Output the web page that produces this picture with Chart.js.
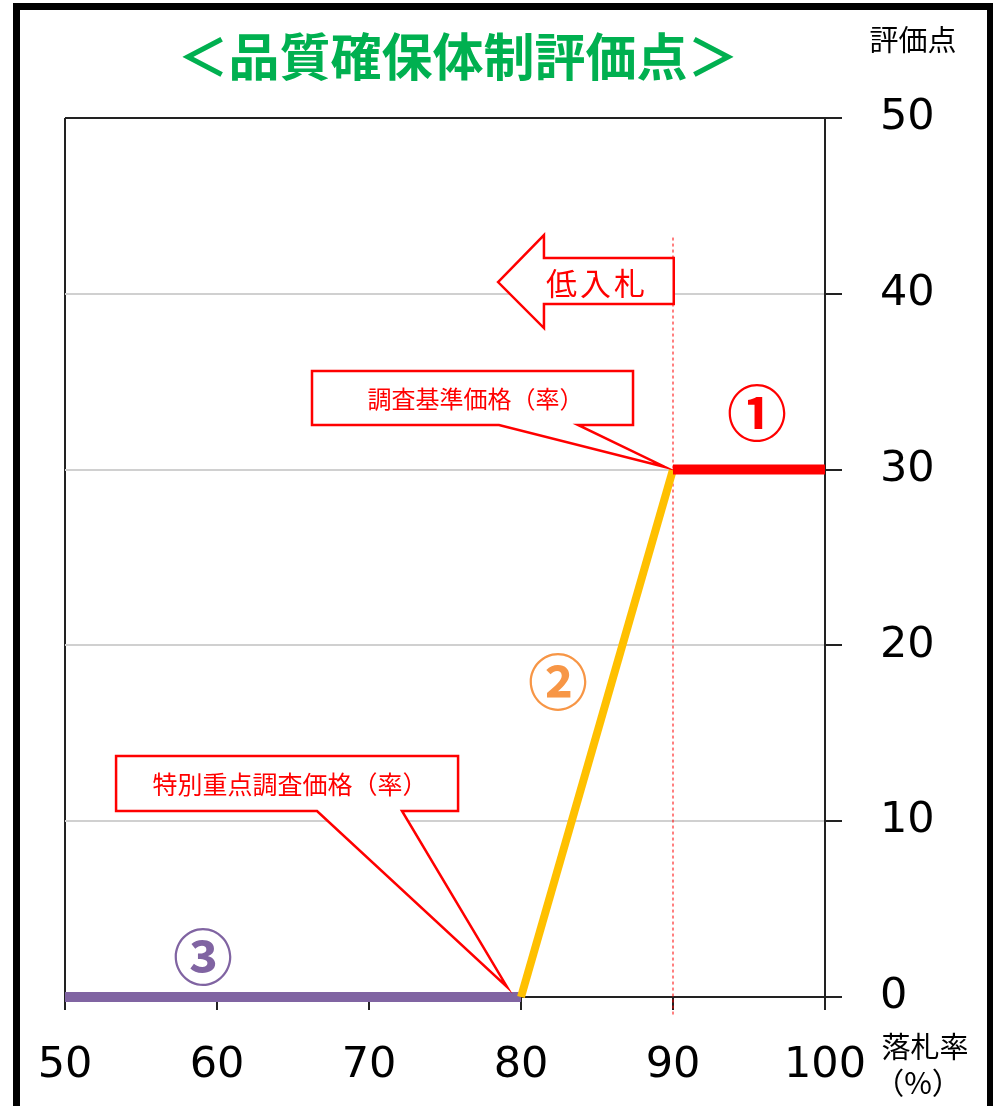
<!DOCTYPE html>
<html lang="ja">
<head>
<meta charset="utf-8">
<title>品質確保体制評価点</title>
<script src="https://cdn.jsdelivr.net/npm/chart.js@4.4.1/dist/chart.umd.min.js"></script>
<style>
html, body { margin: 0; padding: 0; background: #fff; }
#wrap { position: relative; width: 993px; height: 1106px; }
</style>
</head>
<body>
<div id="wrap"><canvas id="myChart"></canvas></div>
<script>
// 落札率 (%) と 評価点
const rates = [50, 80, 90, 100];
const scores = [0, 0, 30, 30];

// 調査基準価格(率) の縦の補助線
const refLineX = [90, 90];
const refLineY = [43.2, -1];

const xTicks = [50, 60, 70, 80, 90, 100];
const yTicks = [0, 10, 20, 30, 40, 50];

const CJK = '"Noto Sans CJK JP", "Noto Sans", sans-serif';
const RED = '#ff0000';

const seg = (i, j) => rates.slice(i, j + 1).map((r, k) => ({ x: r, y: scores[i + k] }));

// 吹き出し・矢印などの注記 (位置はグラフの値で指定)
const notes = {
    kijun: { box: [66.25, 87.37, 35.61, 32.54], base: [78.55, 83.75], tip: [89.47, 30.15],
             text: '調査基準価格（率）', size: 24 },
    tokubetsu: { box: [53.36, 75.86, 13.71, 10.58], base: [66.58, 72.17], tip: [79.08, 0.57],
                 text: '特別重点調査価格（率）', size: 25 },
    arrow: { tipX: 78.49, headX: 81.51, right: 90.05, midY: 40.67,
             bodyTop: 42.04, bodyBottom: 39.42, headTop: 43.34, headBottom: 38.05,
             text: '低入札', textX: 85.0 },
    marks: [
        { text: '①', x: 95.53, y: 33.22, color: '#ff0000' },
        { text: '②', x: 82.43, y: 17.92, color: '#f79646' },
        { text: '③', x: 59.08, y: 2.28, color: '#8064a2' }
    ]
};

function drawCallout(ctx, X, Y, c) {
    const [l, r, t, b] = [X(c.box[0]), X(c.box[1]), Y(c.box[2]), Y(c.box[3])];
    ctx.beginPath();
    ctx.moveTo(l, t);
    ctx.lineTo(r, t);
    ctx.lineTo(r, b);
    ctx.lineTo(X(c.base[1]), b);
    ctx.lineTo(X(c.tip[0]), Y(c.tip[1]));
    ctx.lineTo(X(c.base[0]), b);
    ctx.lineTo(l, b);
    ctx.closePath();
    ctx.fillStyle = '#fff';
    ctx.fill();
    ctx.lineWidth = 2.5;
    ctx.strokeStyle = RED;
    ctx.stroke();
    ctx.fillStyle = RED;
    ctx.font = c.size + 'px ' + CJK;
    ctx.textAlign = 'center';
    ctx.textBaseline = 'middle';
    ctx.fillText(c.text, (l + r) / 2 + 3, (t + b) / 2 + 1);
}

const annotations = {
    id: 'annotations',
    beforeDraw(chart) {
        const ctx = chart.ctx;
        ctx.save();
        ctx.fillStyle = '#fff';
        ctx.fillRect(0, 0, chart.width, chart.height);
        // 外枠
        ctx.fillStyle = '#000';
        ctx.fillRect(13, 3, 980, 7);
        ctx.fillRect(13, 3, 7, chart.height);
        ctx.fillRect(987, 3, 6, chart.height);
        ctx.restore();
    },
    afterDatasetsDraw(chart) {
        const ctx = chart.ctx;
        const X = v => chart.scales.x.getPixelForValue(v);
        const Y = v => chart.scales.y.getPixelForValue(v);
        ctx.save();

        // 低入札 の矢印
        const a = notes.arrow;
        ctx.beginPath();
        ctx.moveTo(X(a.tipX), Y(a.midY));
        ctx.lineTo(X(a.headX), Y(a.headTop));
        ctx.lineTo(X(a.headX), Y(a.bodyTop));
        ctx.lineTo(X(a.right), Y(a.bodyTop));
        ctx.lineTo(X(a.right), Y(a.bodyBottom));
        ctx.lineTo(X(a.headX), Y(a.bodyBottom));
        ctx.lineTo(X(a.headX), Y(a.headBottom));
        ctx.closePath();
        ctx.fillStyle = '#fff';
        ctx.fill();
        ctx.lineWidth = 2.5;
        ctx.strokeStyle = RED;
        ctx.stroke();
        ctx.fillStyle = RED;
        ctx.font = '31px ' + CJK;
        ctx.textAlign = 'center';
        ctx.textBaseline = 'middle';
        ctx.letterSpacing = '3px';
        ctx.fillText(a.text, X(a.textX), Y(a.midY) + 1);
        ctx.letterSpacing = '0px';

        drawCallout(ctx, X, Y, notes.kijun);
        drawCallout(ctx, X, Y, notes.tokubetsu);

        // 丸数字
        ctx.font = 'bold 60px ' + CJK;
        notes.marks.forEach(m => {
            ctx.fillStyle = m.color;
            ctx.fillText(m.text, X(m.x), Y(m.y));
        });

        // タイトルと軸の見出し
        ctx.fillStyle = '#00b050';
        ctx.font = 'bold 51px ' + CJK;
        ctx.fillText('＜品質確保体制評価点＞', 458, 57);

        ctx.fillStyle = '#000';
        ctx.font = '29px ' + CJK;
        ctx.fillText('評価点', 913, 40);
        ctx.fillText('落札率', 925, 1047);
        ctx.font = '30px ' + CJK;
        ctx.fillText('（%）', 918, 1083);
        ctx.restore();
    }
};

const ctx = document.getElementById('myChart');

const chart = new Chart(ctx, {
    type: 'line',
    data: {
        datasets: [
            { label: '①', data: seg(2, 3), borderColor: '#ff0000', borderWidth: 10, clip: false },
            { label: '②', data: seg(1, 2), borderColor: '#ffc000', borderWidth: 8, clip: false },
            { label: '③', data: seg(0, 1), borderColor: '#8064a2', borderWidth: 10, clip: false },
            {
                label: '調査基準価格',
                data: refLineX.map((x, i) => ({ x: x, y: refLineY[i] })),
                borderColor: '#ff0000',
                borderWidth: 1,
                borderDash: [3, 3],
                clip: false
            }
        ]
    },
    options: {
        responsive: true,
        maintainAspectRatio: false,
        animation: false,
        events: [],
        elements: {
            point: { radius: 0 },
            line: { borderCapStyle: 'butt', tension: 0 }
        },
        layout: { padding: { left: 65, top: 118, right: 0, bottom: 0 } },
        plugins: {
            legend: { display: false },
            tooltip: { enabled: false }
        },
        scales: {
            x: {
                type: 'linear',
                min: xTicks[0],
                max: xTicks[xTicks.length - 1],
                afterBuildTicks: s => { s.ticks = xTicks.map(v => ({ value: v })); },
                afterFit: s => { s.height = 109; },
                ticks: {
                    autoSkip: false,
                    maxRotation: 0,
                    color: '#000',
                    padding: 30,
                    font: { family: '"DejaVu Sans"', size: 43 }
                },
                grid: {
                    color: c => (c.tick && c.tick.value === 50) ? '#222' : 'rgba(0,0,0,0)',
                    lineWidth: 2,
                    tickColor: '#222',
                    tickLength: 13
                },
                border: { color: '#222', width: 2 }
            },
            y: {
                type: 'linear',
                position: 'right',
                min: yTicks[0],
                max: yTicks[yTicks.length - 1],
                afterBuildTicks: s => { s.ticks = yTicks.map(v => ({ value: v })); },
                afterFit: s => { s.width = 168; },
                ticks: {
                    color: '#000',
                    padding: 38,
                    font: { family: '"DejaVu Sans"', size: 43 }
                },
                grid: {
                    color: c => (c.tick && (c.tick.value === 0 || c.tick.value === 50)) ? '#222' : '#d0d0d0',
                    lineWidth: 2,
                    tickColor: '#222',
                    tickLength: 17
                },
                border: { color: '#222', width: 2 }
            }
        }
    },
    plugins: [annotations]
});
</script>
</body>
</html>
